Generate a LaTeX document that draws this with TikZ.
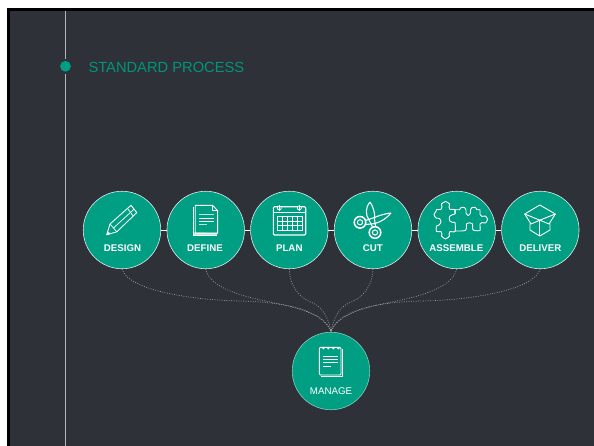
\documentclass[tikz,border=0pt]{standalone}
\usepackage{fontspec}
\setmainfont{Liberation Sans}
\definecolor{bgdark}{HTML}{2E3138}
\definecolor{teal}{HTML}{009E82}
\definecolor{tealtext}{HTML}{00957B}
\definecolor{railgray}{HTML}{B4B5B8}
\definecolor{dotgray}{HTML}{9A9CA0}
\definecolor{pale}{HTML}{BFE6DC}
\tikzset{
  stepcircle/.style={circle,draw=white!85!teal,line width=.6pt,fill=teal,minimum size=77.5pt,inner sep=0pt},
  managecircle/.style={stepcircle,draw=white!50!teal},
  steplabel/.style={text=white,font=\fontsize{9.7}{11}\selectfont\bfseries,inner sep=0pt},
  managelabel/.style={text=white,font=\fontsize{9.7}{11}\selectfont,inner sep=0pt},
  titlelabel/.style={text=tealtext,font=\fontsize{14.7}{16}\selectfont,inner sep=0pt,anchor=west},
  link/.style={draw=white,line width=.8pt},
  feed/.style={draw=dotgray,line width=.7pt,dash pattern=on .9pt off 1.5pt},
  rail/.style={draw=railgray,line width=.8pt},
  railDot/.style={circle,fill=teal,minimum size=10.8pt,inner sep=0pt,outer sep=2pt},
  icon/.style={draw=white,line width=.9pt,line join=round,fill=none},
  iconthin/.style={draw=white,line width=.7pt,line join=round},
}
\begin{document}
\begin{tikzpicture}[x=1pt,y=-1pt]
\useasboundingbox (0,0) rectangle (594,446);
\fill[white] (0,0) rectangle (594,446);
\fill[black] (7,8) rectangle (594,446);
\fill[bgdark] (10,10.7) rectangle (594,446);

% rail and title
\coordinate (railtop) at (65.5,10.7);
\coordinate (railend) at (65.5,446);
\node[railDot] (raildot) at (65.5,66.3) {};
\draw[rail] (railtop) -- (raildot);
\draw[rail] (raildot) -- (railend);
\node[titlelabel] (title) at (88.3,67) {STANDARD PROCESS};

% circles
\node[stepcircle] (design) at (122,230) {};
\node[stepcircle] (define) at (205.7,230) {};
\node[stepcircle] (plan) at (289.3,230) {};
\node[stepcircle] (cut) at (373,230) {};
\node[stepcircle] (assemble) at (456.7,230) {};
\node[stepcircle] (deliver) at (540.3,230) {};
\node[managecircle] (manage) at (331,371) {};

\draw[link] (design) -- (define);
\draw[link] (define) -- (plan);
\draw[link] (plan) -- (cut);
\draw[link] (cut) -- (assemble);
\draw[link] (assemble) -- (deliver);

% dotted feeds
\draw[feed] (design.south) .. controls (128,290) and (190,300) .. (240,301) .. controls (290,302) and (325,312) .. (manage.north);
\draw[feed] (define.south) .. controls (210,290) and (250,298) .. (275,303) .. controls (300,308) and (325,315) .. (manage.north);
\draw[feed] (plan.south) .. controls (290,292) and (305,300) .. (313,303) .. controls (322,307) and (329,318) .. (manage.north);
\draw[feed] (cut.south) .. controls (372,292) and (357,300) .. (349,303) .. controls (340,307) and (333,318) .. (manage.north);
\draw[feed] (assemble.south) .. controls (452,290) and (412,298) .. (387,303) .. controls (362,308) and (337,315) .. (manage.north);
\draw[feed] (deliver.south) .. controls (534,290) and (472,300) .. (422,301) .. controls (372,302) and (337,312) .. (manage.north);

% labels
\node[steplabel] (designlab) at (122.5,248.6) {DESIGN};
\node[steplabel] (definelab) at (205,248.6) {DEFINE};
\node[steplabel] (planlab) at (289.3,248.6) {PLAN};
\node[steplabel] (cutlab) at (372.8,248.6) {CUT};
\node[steplabel] (assemblelab) at (456.3,248.6) {ASSEMBLE};
\node[steplabel] (deliverlab) at (540.3,248.6) {DELIVER};
\node[managelabel] (managelab) at (331,391.3) {MANAGE};

% pencil
\draw[icon] (106.7,234.8) -- (110,224) -- (131,205.3) -- (136.8,212.6) -- (116.8,231.8) -- cycle;
\draw[iconthin] (110,224) -- (113.5,228) -- (116.8,231.8);
\draw[iconthin] (113.5,228) -- (134,209.2);
\draw[iconthin] (127.5,208.5) -- (133,215.8);
\fill[white] (106.5,235) -- (107.6,231.2) -- (110.3,233.7) -- cycle;

% document
\fill[pale] (194,232.5) -- (194,235.3) -- (216.7,235.3) -- (217.6,233) -- cycle;
\draw[iconthin] (193.4,207) -- (193.4,235.3) -- (216.7,235.3);
\draw[icon] (195.2,205.4) -- (212.7,205.4) -- (217.6,210.7) -- (217.6,233.2) -- (195.2,233.2) -- cycle;
\draw[iconthin] (212.7,205.4) -- (212.7,210.7) -- (217.6,210.7);
\draw[pale,line width=1.4pt] (199,214.7) -- (214.3,214.7);
\draw[white,line width=.8pt] (199,218) -- (214.3,218) (199,221.3) -- (214.3,221.3);
\draw[pale,line width=1.1pt] (199,224.7) -- (207.3,224.7);

% calendar
\draw[white,line width=1.1pt,rounded corners=1pt] (273.3,206.8) rectangle (305.7,235);
\draw[iconthin] (273.3,212.3) -- (305.7,212.3);
\draw[white,line width=.7pt,xstep=5pt,ystep=4.45pt,shift={(277.3,216.7)}] (0,0) grid (25,13.35);
\draw[white,line width=.7pt] (277.3,216.7) rectangle (302.3,230.05);
\draw[white,line width=.8pt,fill=teal] (279.3,208) circle (2pt) (299.3,208) circle (2pt);
\draw[white,line width=.7pt] (279.3,205) -- (279.3,211.5) (299.3,205) -- (299.3,211.5);

% scissors
\draw[white,line width=1.1pt,line join=round] (370,202) .. controls (365,208) and (365.5,215) .. (369,220) -- (372.5,227) (370,202) .. controls (373,206) and (375.5,214) .. (374.5,219) -- (375.5,226.5);
\draw[white,line width=1.1pt,line join=round] (391,213) .. controls (385,213.5) and (378,216) .. (373,218) -- (365.5,220.5) (391,213) .. controls (387,218) and (381,222) .. (374.6,223.6) -- (366,224.5);
\draw[white,line width=1.5pt,fill=teal] (360,222.3) circle (5.8pt) (375,232.5) circle (5.8pt);
\draw[white,line width=1pt,fill=teal] (360,222.3) circle (2.6pt) (375,232.5) circle (2.6pt);

% puzzle
\draw[icon] plot[smooth cycle,tension=.45] coordinates {(436.5,209.5) (441,209.5) (442,207) (441.5,204) (445.5,201.5) (449.5,204) (449,207) (450,209.5) (455,209.5) (455,214) (452.5,214.7) (449.5,216.5) (449.5,220.5) (452.5,222.5) (455,222.5) (455,231.5) (450,231.5) (449,234) (449.5,236) (445.5,239) (441.5,236) (442,234) (441,231.5) (436.5,231.5) (436.5,226) (439,225) (441,222) (439.5,218.5) (436,218) (434,214.5) (436,211.5)};
\draw[icon] plot[smooth,tension=.45] coordinates {(455,213.5) (455,209.8) (459.5,209.8) (461,207.5) (464.5,207.5) (466,209.8) (466,213) (468.2,215.5) (470.5,213) (470.5,209.8) (472,207.5) (475.5,207.5) (477,209.8) (480,209.8) (480,214.5) (482,216.5) (485.5,216) (487.5,219.5) (485.5,223) (482,222.5) (480,224) (480,230.5) (475,230.5) (473,230) (472.5,227) (472.5,224) (469.5,222.8) (466.5,224) (466.5,227) (465.5,230.5) (460,231) (455,231)};

% box
\draw[icon] (539.8,205) -- (555.3,214) -- (539.8,220.2) -- (524.7,214) -- cycle;
\draw[icon] (524.7,214) -- (531,224) -- (539.8,220.2) -- (549,224) -- (555.3,214);
\draw[icon] (530,223.5) -- (530,230) -- (539.8,236) -- (550,230) -- (550,223.5);
\draw[iconthin] (539.8,220.2) -- (539.8,236);

% notepad
\draw[iconthin] (342.7,349) -- (342.7,376.7) -- (321,376.7);
\draw[icon,rounded corners=1pt] (319.4,347.4) rectangle (341,375);
\foreach \px in {323.3,328.3,333.3,338.3}{\fill[white] (\px,348.2) circle (1.3pt);}
\draw[white,line width=.7pt] (323.3,356) -- (337.7,356) (323.3,359.3) -- (337.7,359.3) (323.3,362.7) -- (337.7,362.7) (323.3,366) -- (331,366);
\end{tikzpicture}
\end{document}
